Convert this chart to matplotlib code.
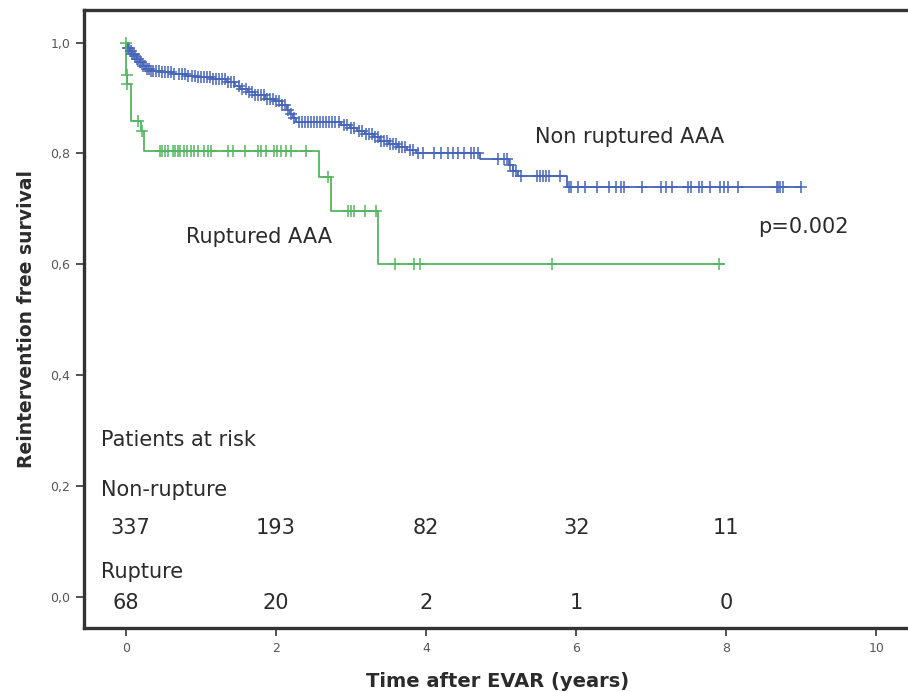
import numpy as np
import matplotlib
matplotlib.use("Agg")
import matplotlib.pyplot as plt

# Kaplan-Meier step knots (time in years, survival)
nonrupt_time = [0.0, 0.02, 0.05, 0.08, 0.11, 0.14, 0.18, 0.22, 0.27, 0.33, 0.45, 0.62,
                0.8, 0.95, 1.15, 1.35, 1.45, 1.52, 1.62, 1.72, 1.85, 1.98, 2.08, 2.14,
                2.18, 2.22, 2.27, 2.86, 2.98, 3.08, 3.18, 3.3, 3.38, 3.5, 3.62, 3.75,
                3.87, 4.72, 5.1, 5.16, 5.22, 5.88, 9.0]
nonrupt_surv = [1.0, 0.991, 0.985, 0.979, 0.976, 0.97, 0.964, 0.958, 0.952, 0.949, 0.946, 0.943,
                0.94, 0.937, 0.934, 0.928, 0.922, 0.916, 0.91, 0.905, 0.899, 0.894, 0.887, 0.879,
                0.871, 0.863, 0.857, 0.851, 0.846, 0.84, 0.835, 0.829, 0.823, 0.817, 0.811, 0.806,
                0.801, 0.79, 0.779, 0.769, 0.759, 0.739, 0.739]
nonrupt_censor = [0.02, 0.04, 0.06, 0.08, 0.1, 0.12, 0.14, 0.16, 0.18, 0.2, 0.22, 0.25, 0.28,
                  0.3, 0.33, 0.36, 0.4, 0.44, 0.48, 0.52, 0.56, 0.6, 0.64, 0.7, 0.74, 0.78,
                  0.82, 0.88, 0.92, 0.96, 1.0, 1.04, 1.08, 1.12, 1.16, 1.2, 1.24, 1.28, 1.32,
                  1.36, 1.4, 1.44, 1.5, 1.55, 1.6, 1.64, 1.68, 1.72, 1.76, 1.8, 1.84, 1.88,
                  1.92, 1.96, 2.0, 2.04, 2.08, 2.12, 2.16, 2.2, 2.24, 2.3, 2.34, 2.38, 2.42,
                  2.46, 2.5, 2.54, 2.58, 2.62, 2.66, 2.7, 2.74, 2.78, 2.84, 2.9, 2.94, 3.0,
                  3.04, 3.1, 3.14, 3.2, 3.24, 3.28, 3.32, 3.36, 3.4, 3.44, 3.48, 3.52, 3.56,
                  3.6, 3.64, 3.68, 3.72, 3.78, 3.82, 3.89, 3.96, 4.11, 4.2, 4.29, 4.36, 4.42,
                  4.51, 4.6, 4.64, 4.69, 4.96, 5.04, 5.08, 5.12, 5.16, 5.2, 5.26, 5.47, 5.52,
                  5.56, 5.6, 5.64, 5.78, 5.9, 5.93, 6.02, 6.11, 6.27, 6.44, 6.53, 6.59, 6.64,
                  6.87, 7.13, 7.19, 7.27, 7.49, 7.53, 7.64, 7.67, 7.78, 7.91, 7.97, 8.02,
                  8.15, 8.67, 8.69, 8.71, 8.76, 9.0]

rupt_time = [0.0, 0.005, 0.01, 0.07, 0.2, 0.245, 2.57, 2.73, 3.36, 7.97]
rupt_surv = [1.0, 0.941, 0.926, 0.859, 0.841, 0.805, 0.757, 0.696, 0.6, 0.6]
rupt_censor = [0.0, 0.007, 0.012, 0.164, 0.21, 0.45, 0.48, 0.52, 0.56, 0.62, 0.65, 0.69,
               0.72, 0.77, 0.81, 0.86, 0.91, 0.96, 1.04, 1.09, 1.13, 1.36, 1.42, 1.58,
               1.76, 1.8, 1.87, 1.97, 2.01, 2.07, 2.13, 2.2, 2.4, 2.69, 2.96, 3.0, 3.04,
               3.18, 3.33, 3.59, 3.84, 3.92, 5.67, 7.9]

risk_times = [0, 2, 4, 6, 8]
risk_nonrupt = ["337", "193", "82", "32", "11"]
risk_rupt = ["68", "20", "2", "1", "0"]

blue = "#4866b9"
green = "#55b560"
txt = "#2b2b2b"


def surv_at(times, surv, t):
    idx = np.searchsorted(times, t, side="right") - 1
    return np.asarray(surv)[idx]


fig = plt.figure(figsize=(9.08, 6.92), dpi=100)
ax = fig.add_axes([0.0925, 0.0925, 0.91, 0.8925])

for times, surv, cens, col in [(nonrupt_time, nonrupt_surv, nonrupt_censor, blue),
                               (rupt_time, rupt_surv, rupt_censor, green)]:
    ax.step(times, surv, where="post", color=col, lw=1.3, zorder=3)
    ax.plot(cens, surv_at(times, surv, cens), ls="none", marker="+", ms=8, mew=1.1,
            color=col, zorder=4)

ax.set_xlim(-0.56, 10.45)
ax.set_ylim(-0.056, 1.058)
ax.set_xticks([0, 2, 4, 6, 8, 10])
ax.set_yticks([0.0, 0.2, 0.4, 0.6, 0.8, 1.0])
ax.set_yticklabels(["0,0", "0,2", "0,4", "0,6", "0,8", "1,0"])
ax.tick_params(axis="both", direction="out", length=6, width=1.3, color="#444444",
               labelsize=9, labelcolor="#555555", pad=4)

for side in ["left", "bottom", "top"]:
    ax.spines[side].set_linewidth(2.4)
    ax.spines[side].set_color("#333333")
ax.spines["right"].set_visible(False)

ax.set_xlabel("Time after EVAR (years)", fontsize=14, fontweight="bold", color=txt, labelpad=12)
ax.set_ylabel("Reintervention free survival", fontsize=13.5, fontweight="bold", color=txt, labelpad=10)

fs = 15
ax.text(6.71, 0.829, "Non ruptured AAA", fontsize=fs, color=txt, ha="center", va="center")
ax.text(1.77, 0.650, "Ruptured AAA", fontsize=fs, color=txt, ha="center", va="center")
ax.text(9.03, 0.667, "p=0.002", fontsize=fs, color=txt, ha="center", va="center")

ax.text(-0.33, 0.283, "Patients at risk", fontsize=fs, color=txt, ha="left", va="center")
ax.text(-0.33, 0.193, "Non-rupture", fontsize=fs, color=txt, ha="left", va="center")
ax.text(-0.33, 0.045, "Rupture", fontsize=fs, color=txt, ha="left", va="center")
for t, a, b in zip(risk_times, risk_nonrupt, risk_rupt):
    ax.text(t + (0.05 if t == 0 else 0), 0.124, a, fontsize=fs, color=txt, ha="center", va="center")
    ax.text(t, -0.011, b, fontsize=fs, color=txt, ha="center", va="center")

fig.savefig("out.png", dpi=100)
